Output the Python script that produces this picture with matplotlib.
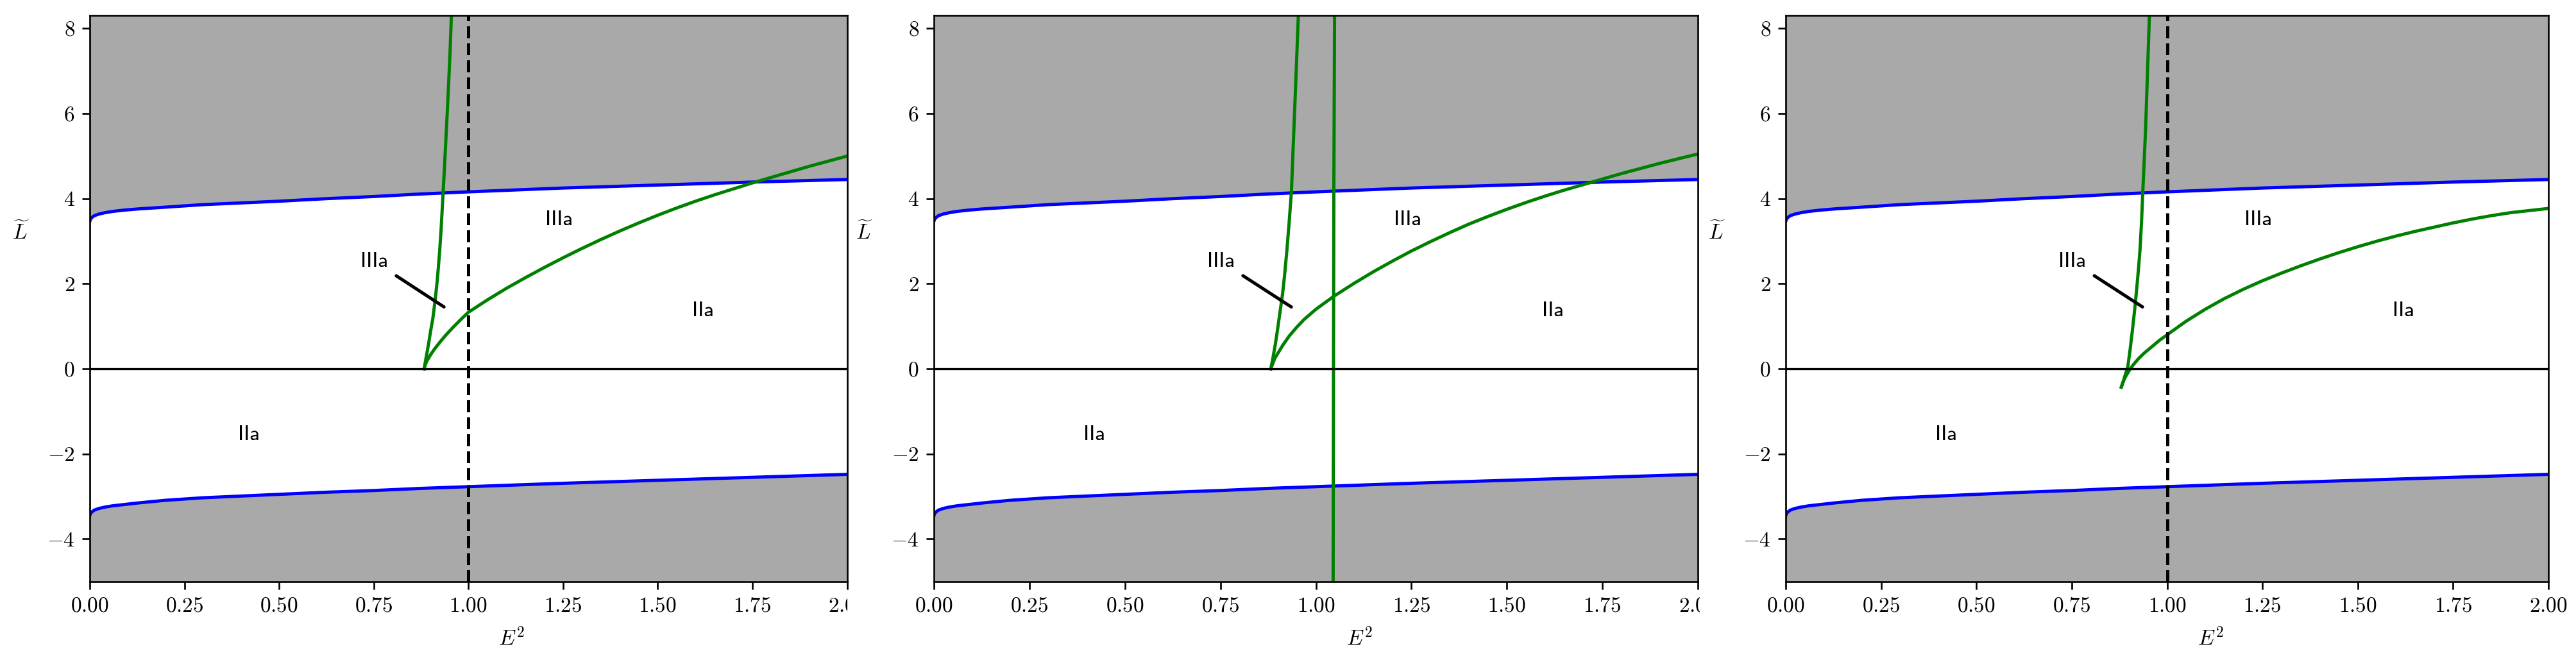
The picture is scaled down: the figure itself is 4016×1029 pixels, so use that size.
import numpy as np
import matplotlib
matplotlib.use("Agg")
import matplotlib.pyplot as plt
from matplotlib.transforms import Bbox, TransformedBbox

plt.rcParams['font.family'] = 'serif'
plt.rcParams['font.serif'] = ['cmr10']
plt.rcParams['mathtext.fontset'] = 'cm'
plt.rcParams['axes.formatter.use_mathtext'] = True

# Boundary of the allowed region (blue), same in all three panels
e2_bound = [0, 0.002, 0.006, 0.012, 0.025, 0.04, 0.06, 0.09, 0.13, 0.2, 0.3, 0.4, 0.5,
            0.625, 0.75, 0.875, 1.0, 1.25, 1.5, 1.75, 2.0]
L_upper = [3.47, 3.52, 3.56, 3.60, 3.64, 3.67, 3.70, 3.73, 3.76, 3.80, 3.86, 3.90, 3.94,
           4.00, 4.05, 4.11, 4.16, 4.25, 4.32, 4.39, 4.45]
L_lower = [-3.45, -3.40, -3.36, -3.32, -3.28, -3.25, -3.22, -3.19, -3.15, -3.09, -3.03, -2.99, -2.95,
           -2.90, -2.86, -2.81, -2.77, -2.69, -2.62, -2.55, -2.48]

# Panel 1 green curves
p1_steep_x = [0.883, 0.889, 0.895, 0.900, 0.906, 0.912, 0.918, 0.924, 0.928, 0.932, 0.936,
              0.940, 0.944, 0.948, 0.952, 0.955, 0.958]
p1_steep_y = [0.0, 0.3, 0.6, 0.88, 1.18, 1.6, 2.1, 2.75, 3.3, 3.95, 4.6,
              5.3, 6.0, 6.75, 7.55, 8.3, 9.0]
p1_conc_x = [0.883, 0.886, 0.89, 0.90, 0.91, 0.925, 0.94, 0.96, 0.98, 1.0, 1.05, 1.1, 1.15,
             1.2, 1.25, 1.3, 1.35, 1.4, 1.45, 1.5, 1.55, 1.6, 1.65, 1.7, 1.75, 1.8, 1.85,
             1.9, 1.95, 2.0]
p1_conc_y = [0.0, 0.09, 0.18, 0.33, 0.46, 0.63, 0.79, 0.98, 1.16, 1.33, 1.62, 1.89, 2.14,
             2.38, 2.61, 2.83, 3.04, 3.24, 3.43, 3.61, 3.78, 3.94, 4.09, 4.23, 4.37, 4.50, 4.63,
             4.76, 4.88, 5.0]

# Panel 2 green curves
p2_steep_x = [0.882, 0.888, 0.894, 0.900, 0.906, 0.913, 0.918, 0.924, 0.930, 0.936, 0.940,
              0.944, 0.948, 0.951, 0.954, 0.957]
p2_steep_y = [0.0, 0.28, 0.59, 0.95, 1.33, 1.78, 2.2, 2.78, 3.45, 4.17, 5.1,
              6.0, 6.9, 7.6, 8.3, 9.0]
p2_conc_x = [0.882, 0.886, 0.892, 0.90, 0.913, 0.93, 0.95, 0.969, 1.0, 1.046, 1.1, 1.15, 1.2,
             1.25, 1.3, 1.35, 1.4, 1.45, 1.5, 1.55, 1.6, 1.65, 1.7, 1.75, 1.8, 1.85, 1.9,
             1.95, 2.0]
p2_conc_y = [0.0, 0.1, 0.24, 0.36, 0.55, 0.77, 0.98, 1.16, 1.40, 1.70, 2.01, 2.28, 2.53,
             2.77, 2.99, 3.2, 3.4, 3.58, 3.75, 3.91, 4.06, 4.2, 4.33, 4.46, 4.59, 4.71, 4.83,
             4.94, 5.05]
p2_vert_x = [1.045, 1.046, 1.047, 1.049]
p2_vert_y = [-5.5, 0.0, 4.2, 8.6]

# Panel 3 green curves
p3_steep_x = [0.880, 0.885, 0.890, 0.897, 0.903, 0.909, 0.915, 0.920, 0.925, 0.929, 0.933,
              0.936, 0.940, 0.944, 0.948, 0.951, 0.954, 0.956]
p3_steep_y = [-0.43, -0.3, -0.15, 0.05, 0.45, 0.9, 1.39, 1.85, 2.35, 2.8, 3.45,
              4.1, 4.9, 5.72, 6.8, 7.6, 8.4, 9.0]
p3_conc_x = [0.880, 0.884, 0.89, 0.90, 0.91, 0.925, 0.94, 0.96, 0.98, 1.0, 1.05, 1.1, 1.15,
             1.2, 1.25, 1.3, 1.35, 1.4, 1.45, 1.5, 1.55, 1.6, 1.65, 1.7, 1.75, 1.8, 1.85,
             1.9, 1.95, 2.0]
p3_conc_y = [-0.43, -0.32, -0.2, -0.05, 0.08, 0.24, 0.37, 0.52, 0.67, 0.80, 1.12, 1.4, 1.65,
             1.87, 2.07, 2.25, 2.42, 2.58, 2.73, 2.87, 3.0, 3.12, 3.23, 3.33, 3.43, 3.52, 3.6,
             3.67, 3.72, 3.77]

# Region labels
region_text = ['IIIa', 'IIa', 'IIa']
region_x = [1.24, 1.62, 0.42]
region_y = [3.5, 1.36, -1.55]
arrow_text_xy = (0.752, 2.52)
arrow_tip_xy = (0.945, 1.4)

panels = [
    dict(curves=[(p1_steep_x, p1_steep_y), (p1_conc_x, p1_conc_y)], dashed=1.0),
    dict(curves=[(p2_steep_x, p2_steep_y), (p2_conc_x, p2_conc_y), (p2_vert_x, p2_vert_y)], dashed=None),
    dict(curves=[(p3_steep_x, p3_steep_y), (p3_conc_x, p3_conc_y)], dashed=1.0),
]

W, H = 4016, 1029
DPI = 240
YLIM = (-5, 8.3)
fig = plt.figure(figsize=(W / DPI, H / DPI), dpi=DPI)

# axes boxes in pixels: left, right
boxes = [(140, 1320.5), (1456, 2647), (2784, 3973)]
top, bottom = 24.5, 906.7
# right edge where each panel's picture was cut
cut_x = [1321, 2650, None]

for i, (p, (l, r)) in enumerate(zip(panels, boxes)):
    ax = fig.add_axes([l / W, (H - bottom) / H, (r - l) / W, (bottom - top) / H])
    ax.fill_between(e2_bound, L_upper, YLIM[1], color='darkgray', lw=0)
    ax.fill_between(e2_bound, YLIM[0], L_lower, color='darkgray', lw=0)
    ax.plot(e2_bound, L_upper, color='blue', lw=1.5)
    ax.plot(e2_bound, L_lower, color='blue', lw=1.5)
    for cx, cy in p['curves']:
        ax.plot(cx, cy, color='green', lw=1.5)
    if p['dashed'] is not None:
        ax.axvline(p['dashed'], color='black', ls='--', lw=1.5)
    ax.axhline(0, color='black', lw=1)

    ax.annotate('IIIa', xy=arrow_tip_xy, xytext=arrow_text_xy, fontfamily='cmss10',
                ha='center', va='center',
                arrowprops=dict(arrowstyle='-', color='black', lw=1.5))
    for t, x, y in zip(region_text, region_x, region_y):
        ax.text(x, y, t, fontfamily='cmss10', ha='center', va='center')

    ax.set_xlim(0, 2)
    ax.set_ylim(*YLIM)
    ax.set_xticks(np.arange(0, 2.01, 0.25))
    ax.set_yticks([-4, -2, 0, 2, 4, 6, 8])
    ax.set_xlabel(r'$E^2$', va='center')
    ax.xaxis.set_label_coords(0.557, -0.0998)
    ax.set_ylabel(r'$\widetilde{L}$', rotation=0, va='center', ha='center')
    ax.yaxis.set_label_coords(-0.0906, 0.617)

    if cut_x[i] is not None:
        clip = TransformedBbox(Bbox.from_extents(0, 0, cut_x[i] / W, 1), fig.transFigure)
        for tick in ax.xaxis.get_major_ticks():
            tick.label1.set_clip_on(True)
            tick.label1.set_clip_box(clip)

fig.savefig('out.png', dpi=DPI)
